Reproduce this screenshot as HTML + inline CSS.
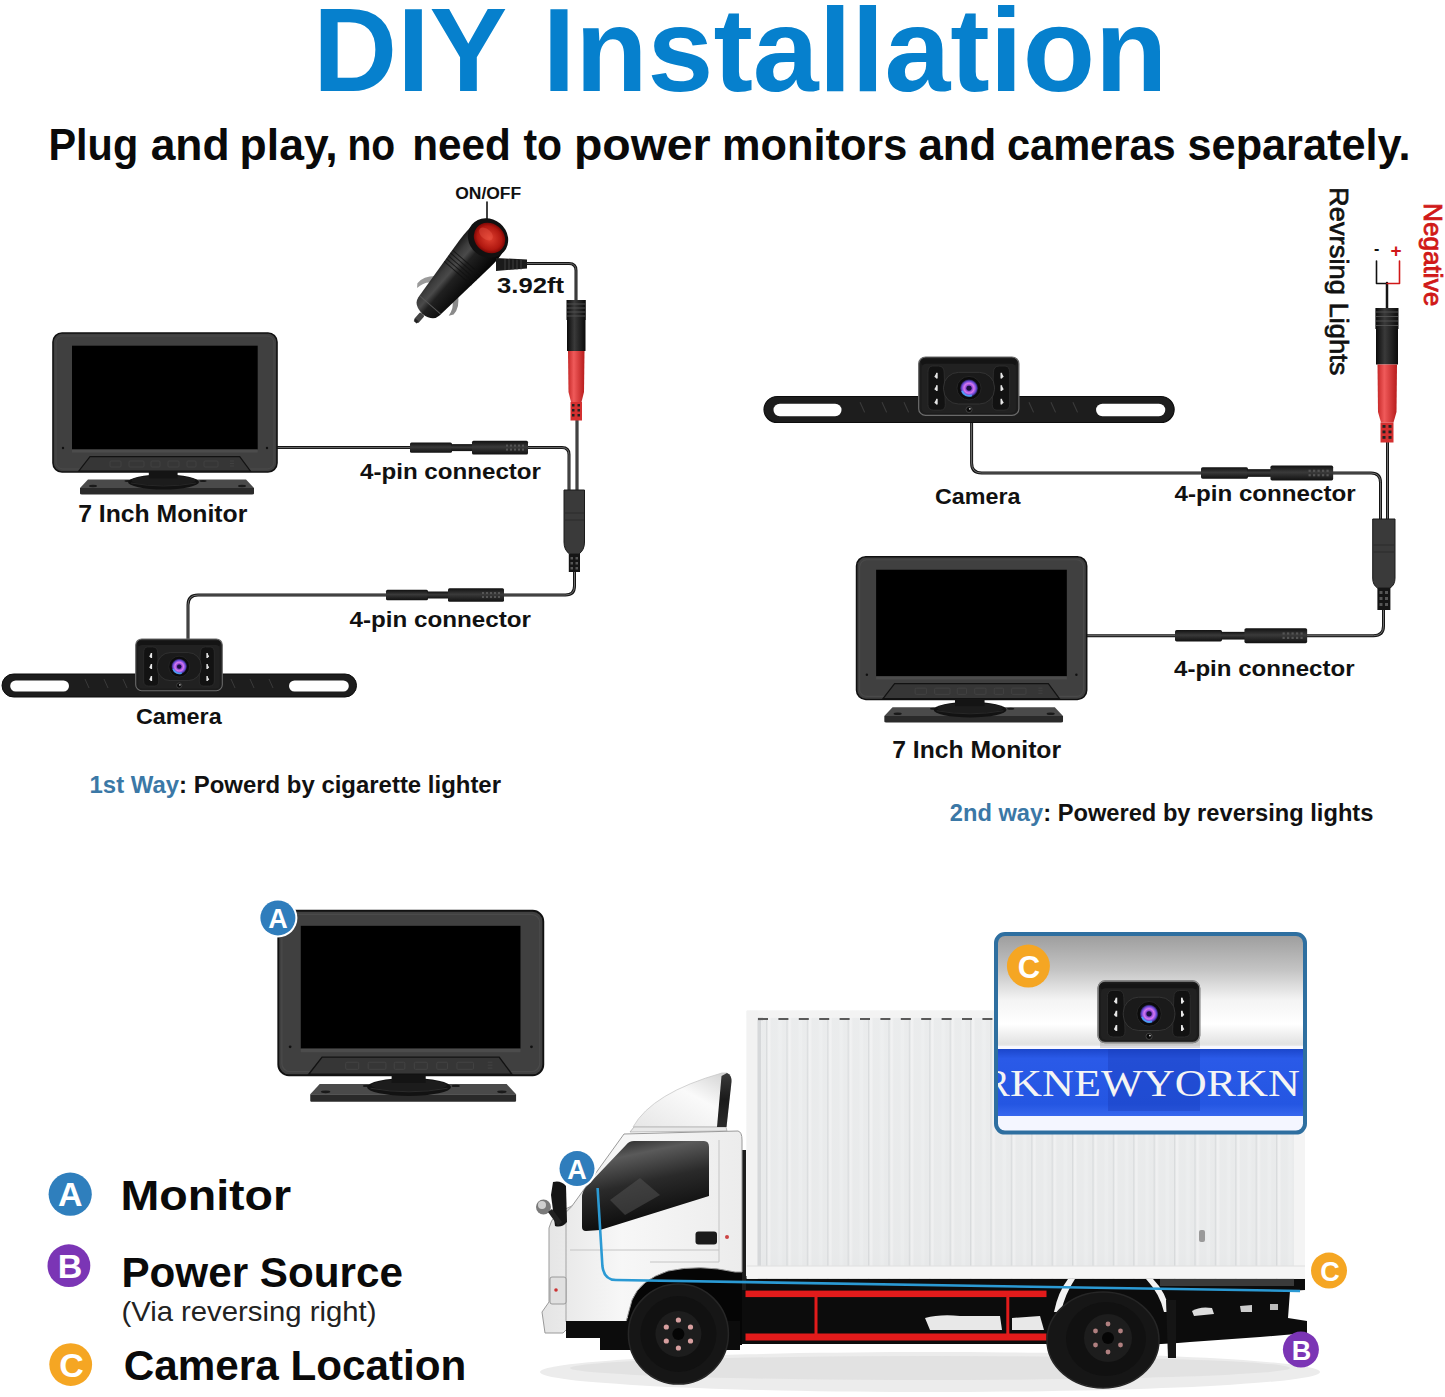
<!DOCTYPE html>
<html><head><meta charset="utf-8">
<style>
html,body{margin:0;padding:0;background:#fff;width:1445px;height:1397px;overflow:hidden}
svg{display:block}
text{font-family:"Liberation Sans",sans-serif}
.b{font-weight:bold}
</style></head>
<body>
<svg width="1445" height="1397" viewBox="0 0 1445 1397">
<defs>
  <radialGradient id="lensg" cx="0.5" cy="0.5" r="0.5">
    <stop offset="0" stop-color="#30206a"/>
    <stop offset="0.3" stop-color="#7a3cc8"/>
    <stop offset="0.55" stop-color="#d878f0"/>
    <stop offset="0.8" stop-color="#6a48d8"/>
    <stop offset="1" stop-color="#181838"/>
  </radialGradient>
  <radialGradient id="redbtn" cx="0.5" cy="0.5" r="0.55">
    <stop offset="0" stop-color="#e04030"/>
    <stop offset="0.7" stop-color="#b01810"/>
    <stop offset="1" stop-color="#600"/>
  </radialGradient>
  <linearGradient id="redconn" x1="0" x2="1" y1="0" y2="0">
    <stop offset="0" stop-color="#c62828"/>
    <stop offset="0.35" stop-color="#f05a5a"/>
    <stop offset="1" stop-color="#b81c1c"/>
  </linearGradient>
  <linearGradient id="blkconn" x1="0" x2="1" y1="0" y2="0">
    <stop offset="0" stop-color="#0a0a0a"/>
    <stop offset="0.4" stop-color="#3a3a3a"/>
    <stop offset="1" stop-color="#0a0a0a"/>
  </linearGradient>
  <linearGradient id="hconn" x1="0" x2="0" y1="0" y2="1">
    <stop offset="0" stop-color="#111"/>
    <stop offset="0.45" stop-color="#3a3a3a"/>
    <stop offset="1" stop-color="#111"/>
  </linearGradient>

  <!-- monitor in local coords (224 wide) -->
  <g id="monitor">
    <rect x="0" y="0" width="224" height="139" rx="9" fill="#404040" stroke="#111" stroke-width="1.6"/>
    <rect x="3" y="3" width="218" height="133" rx="7" fill="none" stroke="#4a4a4a" stroke-width="1"/>
    <rect x="19" y="12.7" width="185.7" height="103.8" fill="#000"/>
    <rect x="19" y="116.5" width="185.7" height="3" fill="#4c4c4c"/>
    <path d="M37 123.7 L186.7 123.7 L197.5 138.2 L25.7 138.2 Z" fill="#363636" stroke="#121212" stroke-width="1.2"/>
    <g fill="none" stroke="#444" stroke-width="0.8">
      <rect x="57" y="128" width="11" height="6" rx="1"/>
      <rect x="76" y="128" width="15" height="6" rx="1"/>
      <rect x="98" y="128" width="9" height="6" rx="1"/>
      <rect x="115" y="128" width="11" height="6" rx="1"/>
      <rect x="134" y="128" width="9" height="6" rx="1"/>
      <rect x="151" y="128" width="14" height="6" rx="1"/>
      <path d="M177 128 L181 128 M177 130.5 L181 130.5 M177 133 L181 133"/>
    </g>
    <circle cx="10" cy="115" r="1.2" fill="#111"/>
    <circle cx="214" cy="115" r="1.2" fill="#111"/>
    <path d="M35 146.5 L193 146.5 L201 155 L27 155 Z" fill="#4a4a4a"/>
    <path d="M27 155 L201 155 L201 160.5 Q201 161.5 199 161.5 L29 161.5 Q27 161.5 27 160.5 Z" fill="#2a2a2a"/>
    <ellipse cx="40" cy="153" rx="4" ry="1.2" fill="#1a1a1a"/>
    <ellipse cx="189" cy="153" rx="4" ry="1.2" fill="#1a1a1a"/>
    <ellipse cx="75" cy="148" rx="3.5" ry="1" fill="#1a1a1a"/>
    <ellipse cx="150" cy="148" rx="3.5" ry="1" fill="#1a1a1a"/>
    <ellipse cx="110.5" cy="149" rx="35.5" ry="7.5" fill="#121212"/>
    <ellipse cx="110.5" cy="147.5" rx="32" ry="5" fill="#1c1c1c"/>
    <path d="M78 150 Q110.5 156 143 150" stroke="#2c2c2c" stroke-width="0.8" fill="none"/>
    <rect x="95.8" y="138.5" width="28.8" height="7" fill="#141414"/>
  </g>

  <!-- camera box local coords: box 0..86.6 x 0..51.7 -->
  <g id="cambox">
    <rect x="0" y="0" width="86.6" height="51.7" rx="6" fill="#1c1c1c" stroke="#6a6a6a" stroke-width="1.1"/>
    <rect x="2" y="2" width="82.6" height="5" rx="2" fill="#141414"/>
    <rect x="2.5" y="6" width="81.6" height="43.5" rx="4" fill="#212121"/>
    <path d="M12 8 Q8 8 8 14 L8 42 Q8 47 13 47 L19 47 Q23 47 23 42 L22 14 Q22 8 17 8 Z" fill="#121212" stroke="#333" stroke-width="0.6"/>
    <path d="M74.6 8 Q78.6 8 78.6 14 L78.6 42 Q78.6 47 73.6 47 L67.6 47 Q63.6 47 63.6 42 L64.6 14 Q64.6 8 69.6 8 Z" fill="#121212" stroke="#333" stroke-width="0.6"/>
    <g fill="#e8e8e8">
      <path d="M15.5 14 L15.5 19 L13.5 17.5 Z"/><path d="M15.5 25 L15.5 30 L13.5 28.5 Z"/><path d="M15.5 37 L15.5 42 L13.5 40.5 Z"/>
      <path d="M71.5 14 L71.5 19 L73.5 17.5 Z"/><path d="M71.5 25 L71.5 30 L73.5 28.5 Z"/><path d="M71.5 37 L71.5 42 L73.5 40.5 Z"/>
      <rect x="15" y="14" width="1.4" height="5"/><rect x="15" y="25" width="1.4" height="5"/><rect x="15" y="37" width="1.4" height="5"/>
      <rect x="70.7" y="14" width="1.4" height="5"/><rect x="70.7" y="25" width="1.4" height="5"/><rect x="70.7" y="37" width="1.4" height="5"/>
    </g>
    <rect x="21.5" y="13.6" width="44" height="28" rx="13" fill="#1a1a1a" stroke="#3a3a3a" stroke-width="0.7"/>
    <circle cx="43.5" cy="27.6" r="10.4" fill="#0b0b0b" stroke="#2e2e2e" stroke-width="0.6"/>
    <circle cx="43.5" cy="27.6" r="7.8" fill="url(#lensg)"/>
    <path d="M37.5 30 A6.5 6.5 0 0 0 46 34" stroke="#4ab0ff" stroke-width="1.6" fill="none" opacity="0.85"/>
    <circle cx="43.5" cy="27.6" r="2.2" fill="#1a1040"/>
    <circle cx="43.5" cy="46.5" r="2.6" fill="#0a0a0a" stroke="#555" stroke-width="0.6"/>
    <circle cx="44.2" cy="45.9" r="0.8" fill="#ccc"/>
  </g>

  <g id="camera">
    <rect x="0" y="35" width="354.5" height="23" rx="11.5" fill="#1d1d1d" stroke="#0c0c0c" stroke-width="1"/>
    <rect x="8.2" y="41.4" width="58.8" height="11.1" rx="5.5" fill="#fff"/>
    <rect x="287" y="41.4" width="59.8" height="11.1" rx="5.5" fill="#fff"/>
    <g stroke="#3a3a3a" stroke-width="1" fill="none">
      <path d="M83 40 l4 9 M102 40 l4 9 M121 40 l4 9 M229 40 l4 9 M248 40 l4 9 M267 40 l4 9"/>
    </g>
    <use href="#cambox" x="133.7" y="0"/>
  </g>

  <g id="hconnector">
    <!-- horizontal 4-pin connector, local: starts at 0, center y 0 -->
    <rect x="0" y="-5.2" width="42" height="10.4" rx="1.5" fill="url(#hconn)"/>
    <rect x="41" y="-3.5" width="22" height="7" fill="url(#hconn)"/>
    <rect x="62" y="-6.8" width="56" height="13.6" rx="1.5" fill="url(#hconn)"/>
    <g fill="#555">
      <rect x="96" y="-3" width="2" height="2"/><rect x="100" y="-3" width="2" height="2"/><rect x="104" y="-3" width="2" height="2"/><rect x="108" y="-3" width="2" height="2"/><rect x="112" y="-3" width="2" height="2"/>
      <rect x="96" y="1" width="2" height="2"/><rect x="100" y="1" width="2" height="2"/><rect x="104" y="1" width="2" height="2"/><rect x="108" y="1" width="2" height="2"/><rect x="112" y="1" width="2" height="2"/>
    </g>
  </g>

  <g id="badgeA">
    <circle r="21.6" fill="#2f7dbc"/>
    <text x="0" y="10.5" text-anchor="middle" font-size="31" font-weight="bold" fill="#fff">A</text>
  </g>
</defs>

<!-- ===== TITLE ===== -->
<text x="313.0" y="90.5" font-size="119" class="b" fill="#0680cd" textLength="194.3" lengthAdjust="spacingAndGlyphs">DIY</text>
<text x="542.4" y="90.5" font-size="119" class="b" fill="#0680cd" textLength="624.9" lengthAdjust="spacingAndGlyphs">Installation</text>
<text x="48.5" y="160" font-size="45" class="b" fill="#0a0a0a" textLength="89.7" lengthAdjust="spacingAndGlyphs">Plug</text>
<text x="150.7" y="160" font-size="45" class="b" fill="#0a0a0a" textLength="78.9" lengthAdjust="spacingAndGlyphs">and</text>
<text x="239.6" y="160" font-size="45" class="b" fill="#0a0a0a" textLength="98.1" lengthAdjust="spacingAndGlyphs">play,</text>
<text x="347.4" y="160" font-size="45" class="b" fill="#0a0a0a" textLength="47.7" lengthAdjust="spacingAndGlyphs">no</text>
<text x="412.2" y="160" font-size="45" class="b" fill="#0a0a0a" textLength="98.7" lengthAdjust="spacingAndGlyphs">need</text>
<text x="523.5" y="160" font-size="45" class="b" fill="#0a0a0a" textLength="38.6" lengthAdjust="spacingAndGlyphs">to</text>
<text x="573.9" y="160" font-size="45" class="b" fill="#0a0a0a" textLength="136.8" lengthAdjust="spacingAndGlyphs">power</text>
<text x="722.1" y="160" font-size="45" class="b" fill="#0a0a0a" textLength="185.2" lengthAdjust="spacingAndGlyphs">monitors</text>
<text x="918.4" y="160" font-size="45" class="b" fill="#0a0a0a" textLength="78.0" lengthAdjust="spacingAndGlyphs">and</text>
<text x="1006.9" y="160" font-size="45" class="b" fill="#0a0a0a" textLength="168.8" lengthAdjust="spacingAndGlyphs">cameras</text>
<text x="1187.5" y="160" font-size="45" class="b" fill="#0a0a0a" textLength="222.9" lengthAdjust="spacingAndGlyphs">separately.</text>

<!-- ===== TOP LEFT ===== -->
<g id="tl">
  <!-- cables -->
  <g fill="none" stroke-linecap="round" stroke-linejoin="round">
    <path d="M527 263.5 L569 263.5 Q576 263.5 576 270.5 L576 300" stroke="#151515" stroke-width="3"/>
    <path d="M527 263.5 L569 263.5 Q576 263.5 576 270.5 L576 300" stroke="#777" stroke-width="0.8"/>
    <path d="M577 420 L577 492" stroke="#151515" stroke-width="3"/>
    <path d="M577 420 L577 492" stroke="#888" stroke-width="0.8"/>
    <path d="M277 447.6 L410 447.6 M528 447.6 L562 447.6 Q569 447.6 569 454.6 L569 492" stroke="#151515" stroke-width="3"/>
    <path d="M277 447.6 L410 447.6 M528 447.6 L562 447.6 Q569 447.6 569 454.6 L569 492" stroke="#888" stroke-width="0.8"/>
    <path d="M574.5 570 L574.5 586 Q574.5 595 565.5 595 L504 595 M386 595 L198 595 Q188 595 188 605 L188 640" stroke="#151515" stroke-width="3"/>
    <path d="M574.5 570 L574.5 586 Q574.5 595 565.5 595 L504 595 M386 595 L198 595 Q188 595 188 605 L188 640" stroke="#888" stroke-width="0.8"/>
    <path d="M487 202 L487 222" stroke="#111" stroke-width="1.6"/>
  </g>
  <!-- cigarette lighter -->
  <defs>
    <linearGradient id="lbody" gradientUnits="userSpaceOnUse" x1="0" y1="21" x2="0" y2="-21">
      <stop offset="0" stop-color="#1a1a1a"/>
      <stop offset="0.2" stop-color="#3c3c3c"/>
      <stop offset="0.35" stop-color="#4a4a4a"/>
      <stop offset="0.5" stop-color="#202020"/>
      <stop offset="1" stop-color="#050505"/>
    </linearGradient>
  </defs>
  <g transform="translate(488 238.5) rotate(131)">
    <path d="M62 -14 Q70 -24 80 -24 L84 -21 Q74 -20 70 -13 Z" fill="#8a8a8a"/>
    <path d="M62 14 Q70 24 80 24 L84 21 Q74 20 70 13 Z" fill="#9a9a9a"/>
    <path d="M0 -20 Q6 -21.5 20 -20.5 L90 -14 Q99 -13 100 0 Q99 13 90 14 L20 20.5 Q6 21.5 0 20 Z" fill="url(#lbody)"/>
    <g stroke="#111" stroke-width="1" opacity="0.8"><path d="M32 -19 L32 19 M35.5 -19 L35.5 19 M39 -18.5 L39 18.5 M42.5 -18 L42.5 18 M46 -18 L46 18"/></g>
    <path d="M88 -13.5 L88 13.5" stroke="#555" stroke-width="1"/>
    <rect x="100" y="-3" width="10" height="6" rx="1.5" fill="#444"/>
    <rect x="108" y="-2" width="3" height="4" fill="#222"/>
  </g>
  <ellipse cx="488" cy="238" rx="21" ry="19" fill="#111" transform="rotate(40 488 238)"/>
  <ellipse cx="489.5" cy="238" rx="16.5" ry="14.5" fill="url(#redbtn)" transform="rotate(40 489.5 238)"/>
  <ellipse cx="486" cy="234" rx="8" ry="5" fill="#f06050" opacity="0.35" transform="rotate(40 486 234)"/>
  <!-- strain relief -->
  <path d="M496 258 L527 259.5 L527 268.5 L496 271 Z" fill="#1a1a1a"/>
  <g stroke="#444" stroke-width="0.9"><path d="M505 259 L505 270 M509 259 L509 270 M513 259.5 L513 269.5 M517 259.5 L517 269.5 M521 259.5 L521 269.5"/></g>
  <!-- vertical red connector -->
  <rect x="566.5" y="300" width="19.3" height="20" fill="url(#blkconn)"/>
  <g stroke="#555" stroke-width="0.9"><path d="M567 304 L585.5 304 M567 308 L585.5 308 M567 312 L585.5 312 M567 316 L585.5 316"/></g>
  <rect x="567" y="320" width="18.5" height="31" fill="url(#blkconn)"/>
  <path d="M568 351 L584.5 351 L584 392 L581.5 402 L571 402 L568.5 392 Z" fill="url(#redconn)"/>
  <rect x="570.5" y="402" width="11.5" height="18.5" fill="#d43030"/>
  <g fill="#222"><rect x="572" y="404" width="2.5" height="2.5"/><rect x="577.5" y="404" width="2.5" height="2.5"/><rect x="572" y="409" width="2.5" height="2.5"/><rect x="577.5" y="409" width="2.5" height="2.5"/><rect x="572" y="414" width="2.5" height="2.5"/><rect x="577.5" y="414" width="2.5" height="2.5"/></g>
  <!-- junction box -->
  <path d="M564 490 L584.5 490 L584.5 542 Q584.5 550 579 554 L569.5 554 Q564 550 564 542 Z" fill="#3a3a3a" stroke="#1a1a1a" stroke-width="1"/>
  <path d="M565 513 L584 513 M565 520 L584 520" stroke="#2a2a2a" stroke-width="1"/>
  <rect x="568.8" y="554" width="11.2" height="18" fill="#151515"/>
  <g fill="#555"><rect x="570.5" y="557" width="2.5" height="2.5"/><rect x="575.5" y="557" width="2.5" height="2.5"/><rect x="570.5" y="562" width="2.5" height="2.5"/><rect x="575.5" y="562" width="2.5" height="2.5"/><rect x="570.5" y="567" width="2.5" height="2.5"/><rect x="575.5" y="567" width="2.5" height="2.5"/></g>
  <!-- horizontal connectors -->
  <use href="#hconnector" transform="translate(410 447.6)"/>
  <use href="#hconnector" transform="translate(386 595)"/>
  <!-- monitor -->
  <use href="#monitor" transform="translate(53 333)"/>
  <!-- camera -->
  <use href="#camera" transform="translate(2 639)"/>
  <!-- labels -->
  <text x="455.2" y="198.6" font-size="16" class="b" fill="#111" textLength="66" lengthAdjust="spacingAndGlyphs">ON/OFF</text>
  <text x="497" y="292.6" font-size="21.8" class="b" fill="#111" textLength="67" lengthAdjust="spacingAndGlyphs">3.92ft</text>
  <text x="360" y="478.7" font-size="21.8" class="b" fill="#111" textLength="181" lengthAdjust="spacingAndGlyphs">4-pin connector</text>
  <text x="78.2" y="521.5" font-size="23" class="b" fill="#111" textLength="169.2" lengthAdjust="spacingAndGlyphs">7 Inch Monitor</text>
  <text x="349.6" y="626.7" font-size="21.8" class="b" fill="#111" textLength="181.4" lengthAdjust="spacingAndGlyphs">4-pin connector</text>
  <text x="136" y="723.5" font-size="22.5" class="b" fill="#111" textLength="85.7" lengthAdjust="spacingAndGlyphs">Camera</text>
  <text x="89.5" y="793" font-size="23" class="b" fill="#111" textLength="411.5" lengthAdjust="spacingAndGlyphs"><tspan fill="#3b78a6">1st Way</tspan>: Powerd by cigarette lighter</text>
</g>
<!-- ===== TOP RIGHT ===== -->
<g id="tr">
  <g fill="none" stroke-linecap="round" stroke-linejoin="round">
    <path d="M971.6 423 L971.6 463 Q971.6 473 981.6 473 L1201 473 M1333 473 L1371 473 Q1380.5 473 1380.5 482.5 L1380.5 520" stroke="#151515" stroke-width="3"/>
    <path d="M971.6 423 L971.6 463 Q971.6 473 981.6 473 L1201 473 M1333 473 L1371 473 Q1380.5 473 1380.5 482.5 L1380.5 520" stroke="#888" stroke-width="0.8"/>
    <path d="M1387.5 442 L1387.5 520" stroke="#151515" stroke-width="3"/>
    <path d="M1387.5 442 L1387.5 520" stroke="#888" stroke-width="0.8"/>
    <path d="M1383.5 608 L1383.5 626 Q1383.5 635.7 1373.5 635.7 L1307 635.7 M1175 635.7 L1087 635.7" stroke="#151515" stroke-width="3"/>
    <path d="M1383.5 608 L1383.5 626 Q1383.5 635.7 1373.5 635.7 L1307 635.7 M1175 635.7 L1087 635.7" stroke="#888" stroke-width="0.8"/>
    <path d="M1387 283 L1387 309" stroke="#151515" stroke-width="2.5"/>
    <path d="M1376.5 261 L1376.5 283.5 L1387 283.5" stroke="#111" stroke-width="1.6"/>
    <path d="M1399.5 261 L1399.5 283.5 L1387 283.5" stroke="#d01818" stroke-width="1.6"/>
  </g>
  <text x="1374" y="254" font-size="16" class="b" fill="#111">-</text>
  <text x="1390.5" y="257" font-size="19" class="b" fill="#d01818">+</text>
  <!-- vertical red connector -->
  <rect x="1375.4" y="308" width="23.1" height="21" fill="url(#blkconn)"/>
  <g stroke="#555" stroke-width="0.9"><path d="M1376 312 L1398 312 M1376 316.5 L1398 316.5 M1376 321 L1398 321 M1376 325.5 L1398 325.5"/></g>
  <rect x="1376" y="329" width="22" height="35.5" fill="url(#blkconn)"/>
  <path d="M1377.5 364.5 L1397 364.5 L1396.5 412 L1393.5 422.5 L1381 422.5 L1378 412 Z" fill="url(#redconn)"/>
  <rect x="1380.5" y="422.5" width="13" height="20" fill="#d43030"/>
  <g fill="#222"><rect x="1382.5" y="425" width="3" height="2.8"/><rect x="1388.5" y="425" width="3" height="2.8"/><rect x="1382.5" y="430.5" width="3" height="2.8"/><rect x="1388.5" y="430.5" width="3" height="2.8"/><rect x="1382.5" y="436" width="3" height="2.8"/><rect x="1388.5" y="436" width="3" height="2.8"/></g>
  <!-- junction box -->
  <path d="M1372.7 519 L1395 519 L1395 578 Q1395 585 1390 588 L1377.5 588 Q1372.7 585 1372.7 578 Z" fill="#3a3a3a" stroke="#1a1a1a" stroke-width="1"/>
  <path d="M1373.5 545 L1394 545 M1373.5 552 L1394 552" stroke="#2a2a2a" stroke-width="1"/>
  <rect x="1377.4" y="588" width="13" height="22" fill="#151515"/>
  <g fill="#555"><rect x="1379.5" y="591" width="3" height="3"/><rect x="1385" y="591" width="3" height="3"/><rect x="1379.5" y="597" width="3" height="3"/><rect x="1385" y="597" width="3" height="3"/><rect x="1379.5" y="603" width="3" height="3"/><rect x="1385" y="603" width="3" height="3"/></g>
  <use href="#hconnector" transform="translate(1201 473) scale(1.12 1.1)"/>
  <use href="#hconnector" transform="translate(1175 635.7) scale(1.12 1.1)"/>
  <use href="#camera" transform="translate(764 357) scale(1.157 1.13)"/>
  <use href="#monitor" transform="translate(856.6 556.7) scale(1.027)"/>
  <text x="935" y="504.2" font-size="22.5" class="b" fill="#111" textLength="85.5" lengthAdjust="spacingAndGlyphs">Camera</text>
  <text x="1174.5" y="501.4" font-size="21.8" class="b" fill="#111" textLength="181.2" lengthAdjust="spacingAndGlyphs">4-pin connector</text>
  <text x="1174" y="676.4" font-size="21.8" class="b" fill="#111" textLength="180.6" lengthAdjust="spacingAndGlyphs">4-pin connector</text>
  <text x="892.2" y="758.2" font-size="23.5" class="b" fill="#111" textLength="168.9" lengthAdjust="spacingAndGlyphs">7 Inch Monitor</text>
  <text x="949.8" y="821" font-size="23" class="b" fill="#111" textLength="423.6" lengthAdjust="spacingAndGlyphs"><tspan fill="#3b78a6">2nd way</tspan>: Powered by reversing lights</text>
  <text transform="translate(1329.6 187) rotate(90)" x="0" y="0" font-size="26" fill="#111" stroke="#111" stroke-width="0.7" textLength="188.4" lengthAdjust="spacingAndGlyphs">Revrsing Lights</text>
  <text transform="translate(1423.5 203) rotate(90)" x="0" y="0" font-size="25" fill="#d01818" stroke="#d01818" stroke-width="0.8" textLength="103.3" lengthAdjust="spacingAndGlyphs">Negative</text>
</g>

<!-- TOP_RIGHT -->
<!-- ===== BOTTOM ===== -->
<g id="bottom">
  <use href="#monitor" transform="translate(278.3 910.8) scale(1.183)"/>
  <circle cx="277.9" cy="917.9" r="19.5" fill="#fff"/>
  <circle cx="277.9" cy="917.9" r="17.5" fill="#2f7dbc"/>
  <text x="277.9" y="928" text-anchor="middle" font-size="27" class="b" fill="#fff">A</text>

  <!-- legend -->
  <circle cx="70.2" cy="1194.2" r="21.6" fill="#2f7fbd"/>
  <text x="70.2" y="1206" text-anchor="middle" font-size="34" class="b" fill="#fff">A</text>
  <circle cx="68.9" cy="1265.7" r="21.4" fill="#7b35b5"/>
  <text x="70" y="1277.5" text-anchor="middle" font-size="34" class="b" fill="#fff">B</text>
  <circle cx="70.7" cy="1364.6" r="21.4" fill="#f5a623"/>
  <text x="71.5" y="1376.5" text-anchor="middle" font-size="34" class="b" fill="#fff">C</text>
  <text x="120.4" y="1209.6" font-size="42" class="b" fill="#0a0a0a" textLength="170.8" lengthAdjust="spacingAndGlyphs">Monitor</text>
  <text x="121.4" y="1287.3" font-size="42.5" class="b" fill="#0a0a0a" textLength="281.5" lengthAdjust="spacingAndGlyphs">Power Source</text>
  <text x="121.4" y="1321.4" font-size="27.6" fill="#222" textLength="255" lengthAdjust="spacingAndGlyphs">(Via reversing right)</text>
  <text x="123.8" y="1379.9" font-size="42.5" class="b" fill="#0a0a0a" textLength="342.5" lengthAdjust="spacingAndGlyphs">Camera Location</text>

  <!-- TRUCK -->
  <defs>
    <linearGradient id="shadowg" x1="0" x2="0" y1="0" y2="1">
      <stop offset="0" stop-color="#d8d8d8"/>
      <stop offset="1" stop-color="#fff" stop-opacity="0"/>
    </linearGradient>
    <linearGradient id="boxg" x1="0" x2="0" y1="0" y2="1">
      <stop offset="0" stop-color="#f2f2f2"/>
      <stop offset="0.9" stop-color="#e9e9e9"/>
      <stop offset="1" stop-color="#dcdcdc"/>
    </linearGradient>
    <pattern id="ribs" x="766" y="0" width="20.4" height="10" patternUnits="userSpaceOnUse">
      <rect x="0" y="0" width="20.4" height="10" fill="#e8eaeb"/>
      <rect x="0" y="0" width="1.6" height="10" fill="#d3d6d8"/>
      <rect x="1.6" y="0" width="3" height="10" fill="#f1f2f3"/>
      <rect x="12" y="0" width="4" height="10" fill="#eceeef"/>
    </pattern>
    <linearGradient id="wing" x1="0" x2="1" y1="1" y2="0">
      <stop offset="0" stop-color="#e6e6e6"/>
      <stop offset="0.6" stop-color="#fafafa"/>
      <stop offset="1" stop-color="#d0d0d0"/>
    </linearGradient>
    <linearGradient id="wing2" x1="0" x2="0" y1="0" y2="1">
      <stop offset="0" stop-color="#3a3a3a"/>
      <stop offset="0.5" stop-color="#1a1a1a"/>
      <stop offset="1" stop-color="#2a2a2a"/>
    </linearGradient>
    <linearGradient id="wind" x1="0" x2="0.3" y1="0" y2="1">
      <stop offset="0" stop-color="#1a1a1a"/>
      <stop offset="0.25" stop-color="#5a5a5a"/>
      <stop offset="0.55" stop-color="#2a2a2a"/>
      <stop offset="1" stop-color="#0a0a0a"/>
    </linearGradient>
    <linearGradient id="cabg" x1="0" x2="1" y1="0" y2="0">
      <stop offset="0" stop-color="#e4e4e4"/>
      <stop offset="0.4" stop-color="#f7f7f7"/>
      <stop offset="1" stop-color="#ececec"/>
    </linearGradient>
  </defs>
  <ellipse cx="930" cy="1372" rx="390" ry="20" fill="#ececec"/>
  <ellipse cx="930" cy="1368" rx="360" ry="12" fill="#e2e2e2"/>
  <!-- chassis -->
  <path d="M735 1276 L1305 1276 L1305 1290 L1290 1291 L1288 1318 L1307 1321 L1307 1333 L1260 1337 L1190 1342 L1178 1343 L1060 1350 L1046 1344 L740 1344 Z" fill="#0c0c0c"/>
  <rect x="1160" y="1279" width="134" height="7" fill="#5a5a5a" opacity="0.6"/>
  <path d="M600 1318 L740 1318 L740 1350 L600 1350 Z" fill="#0c0c0c"/>
  <g fill="#e8e8e8">
    <path d="M925 1318 Q940 1314 960 1316 L1000 1316 L1002 1330 L930 1330 Z"/>
    <path d="M1012 1318 L1040 1316 L1044 1330 L1012 1330 Z"/>
    <path d="M1192 1311 Q1200 1306 1212 1308 L1214 1314 L1194 1316 Z" fill="#ddd"/><path d="M1240 1306 L1252 1305 L1252 1312 L1241 1312 Z" fill="#ccc"/><path d="M1270 1304 L1278 1304 L1278 1310 L1270 1310 Z" fill="#bbb"/>
  </g>
  <g fill="#e21b1b">
    <rect x="745.5" y="1290.6" width="301" height="6.5"/>
    <rect x="745.5" y="1333.5" width="301" height="7"/>
    <rect x="814.5" y="1293" width="3" height="44"/>
    <rect x="1006.3" y="1293" width="3" height="44"/>
  </g>
  <!-- rear wheel -->
  <path d="M1054 1312 Q1058 1292 1068 1279 L1075 1279 Q1065 1294 1061 1312 Z" fill="#f2f2f2"/>
  <path d="M1146 1279 L1153 1279 Q1166 1292 1170 1312 L1164 1312 Q1160 1294 1146 1279 Z" fill="#f2f2f2"/>
  <ellipse cx="1103" cy="1340" rx="56" ry="48" fill="#161616" stroke="#262626" stroke-width="1.5"/>
  <ellipse cx="1106" cy="1339" rx="40" ry="37" fill="#111"/>
  <circle cx="1108" cy="1338" r="24" fill="#1d1d1d"/>
  <g fill="#b08080"><circle cx="1108" cy="1324" r="2.4"/><circle cx="1120.5" cy="1331" r="2.4"/><circle cx="1120.5" cy="1345" r="2.4"/><circle cx="1108" cy="1352" r="2.4"/><circle cx="1095.5" cy="1345" r="2.4"/><circle cx="1095.5" cy="1331" r="2.4"/></g>
  <circle cx="1108" cy="1338" r="6" fill="#050505"/>
  <path d="M1166 1300 L1176 1300 L1176 1358 L1168 1358 Z" fill="#151515"/>
  <!-- cargo box -->
  <rect x="746.8" y="1010.8" width="558.2" height="268" fill="url(#ribs)"/>
  <rect x="746.8" y="1010.8" width="558.2" height="268" fill="url(#boxg)" opacity="0.25"/>
  <rect x="746.8" y="1010.4" width="558.2" height="7.5" fill="#f3f3f3"/>
  <rect x="746.8" y="1010.8" width="11" height="268" fill="#f2f2f2"/>
  <rect x="757.5" y="1018" width="3.5" height="250" fill="#d6d8da"/>
  <rect x="1294" y="1010.8" width="11" height="268" fill="#f4f4f4"/>
  <path d="M758 1019 L1300 1019" stroke="#5a5a5a" stroke-width="2.2" stroke-dasharray="10 10.4"/>
  <rect x="746.8" y="1266" width="558.2" height="12.5" fill="#f5f5f5"/>
  <path d="M746.8 1266 L1305 1266" stroke="#e0e0e0" stroke-width="1"/>
  <rect x="1199" y="1230" width="6" height="12" rx="2" fill="#9a9a9a"/>
  <path d="M741 1150 L746 1150 L746 1290 L741 1290 Z" fill="#1c1c1c"/>
  <path d="M628 1310 Q636 1278 668 1270 Q700 1263 742 1268 L742 1345 L628 1345 Z" fill="#050505"/>
  <!-- cab -->
  <path d="M633 1127 Q652 1093 722 1073 L727 1073 L731 1080 L726 1127 Z" fill="url(#wing)" stroke="#c8c8c8" stroke-width="0.8"/>
  <path d="M634 1127 L726 1127 L727 1131 L630 1132 Z" fill="#e8e8e8" stroke="#a8a8a8" stroke-width="0.7"/>
  <path d="M721.5 1076 L727 1073 Q732 1075 731.5 1082 L726.5 1127 L717 1127 Z" fill="url(#wing2)"/>
  <path d="M624 1134 L738 1131 Q742 1132 742 1140 L742 1272 L735 1272 Q700 1264 668 1271 Q640 1280 632 1300 L626 1322 L572 1324 L563 1333 L545 1333 L542 1312 L549 1302 L549 1228 Q552 1213 572 1206 Z" fill="url(#cabg)" stroke="#9a9a9a" stroke-width="1"/>
  <path d="M572 1206 L566 1212 L566 1322" stroke="#b0b0b0" stroke-width="1.2" fill="none"/>
  <path d="M719 1140 L719 1262 L650 1262 M570 1250 L719 1250" stroke="#c4c4c4" stroke-width="1" fill="none"/>
  <path d="M634 1141 L704 1141 Q709 1141 709 1147 L709 1196 L600 1230 L586 1231 Q582 1231 582 1227 L582 1197 Q582 1192 586 1187 L626 1145 Q629 1141 634 1141 Z" fill="url(#wind)"/>
  <path d="M610 1200 L640 1178 L660 1195 L625 1215 Z" fill="#555" opacity="0.5"/>
  <rect x="695.5" y="1231.5" width="21.5" height="13" rx="3" fill="#1a1a1a"/>
  <circle cx="727" cy="1237" r="2" fill="#c44"/>
  <!-- mirror -->
  <path d="M553 1182 Q561 1180 566 1186 L567 1222 Q562 1228 555 1226 L551 1195 Z" fill="#151515"/>
  <circle cx="543.5" cy="1207" r="7.5" fill="#7a7a7a"/>
  <circle cx="542" cy="1205" r="4" fill="#cfcfcf"/>
  <path d="M548 1212 L558 1226 L562 1222 L552 1209 Z" fill="#222"/>
  <!-- headlight -->
  <rect x="550" y="1277" width="16" height="27" rx="2" fill="#e0e0e0" stroke="#888" stroke-width="0.8"/>
  <circle cx="556" cy="1290" r="1.8" fill="#c33"/>
  <!-- front wheel -->
  <path d="M566 1321 L740 1321 L740 1345 L626 1345 L620 1338 L566 1338 Z" fill="#0c0c0c"/>
  
  <circle cx="678.4" cy="1334" r="50" fill="#161616" stroke="#262626" stroke-width="1.5"/>
  <circle cx="678.4" cy="1334" r="38" fill="#111"/>
  <circle cx="678.4" cy="1334" r="23" fill="#1d1d1d"/>
  <g fill="#d8a0a0"><circle cx="678.4" cy="1320" r="2.6"/><circle cx="690.5" cy="1327" r="2.6"/><circle cx="690.5" cy="1341" r="2.6"/><circle cx="678.4" cy="1348" r="2.6"/><circle cx="666.3" cy="1341" r="2.6"/><circle cx="666.3" cy="1327" r="2.6"/></g>
  <circle cx="678.4" cy="1334" r="6" fill="#050505"/>
  <!-- blue wiring -->
  <path d="M597.6 1188 L602.4 1266 Q604 1280 616 1280 L1300 1291" stroke="#2b9ad4" stroke-width="2.6" fill="none"/>
  <!-- badges on truck -->
  <circle cx="577" cy="1168.6" r="19.5" fill="#fff"/>
  <circle cx="577" cy="1168.6" r="17.5" fill="#2f7dbc"/>
  <text x="577" y="1178.5" text-anchor="middle" font-size="27" class="b" fill="#fff">A</text>
  <circle cx="1329" cy="1270.6" r="18" fill="#f5a623"/>
  <text x="1330" y="1280.5" text-anchor="middle" font-size="27" class="b" fill="#fff">C</text>
  <circle cx="1300.9" cy="1349.6" r="18" fill="#7b35b5"/>
  <text x="1301.5" y="1359.5" text-anchor="middle" font-size="27" class="b" fill="#fff">B</text>

  <!-- INSET -->
  <defs>
    <clipPath id="insetclip"><rect x="996" y="934" width="309" height="198.6" rx="9"/></clipPath>
    <linearGradient id="insetbg" x1="0" x2="0" y1="934" y2="1134" gradientUnits="userSpaceOnUse">
      <stop offset="0" stop-color="#9c9c9c"/>
      <stop offset="0.18" stop-color="#c4c4c4"/>
      <stop offset="0.33" stop-color="#f4f4f4"/>
      <stop offset="0.45" stop-color="#ffffff"/>
      <stop offset="0.55" stop-color="#e2e2e2"/>
      <stop offset="0.57" stop-color="#f8f8f8"/>
      <stop offset="1" stop-color="#f8f8f8"/>
    </linearGradient>
    <linearGradient id="plateg" x1="0" x2="0" y1="1048" y2="1118" gradientUnits="userSpaceOnUse">
      <stop offset="0" stop-color="#1a44c8"/>
      <stop offset="0.15" stop-color="#2a5ae8"/>
      <stop offset="0.8" stop-color="#2456e2"/>
      <stop offset="1" stop-color="#3a6af0"/>
    </linearGradient>
  </defs>
  <g clip-path="url(#insetclip)">
    <rect x="994" y="932" width="313" height="203" fill="url(#insetbg)"/>
    <rect x="994" y="1048" width="313" height="68" fill="url(#plateg)"/>
    <rect x="994" y="1116" width="313" height="20" fill="#f4f6ff"/>
    <rect x="1108" y="1049" width="92" height="62" fill="#1a3bb8" opacity="0.4"/>
    <text x="985" y="1096.3" font-size="37" fill="#f4f4f4" style="font-family:'Liberation Serif',serif">R</text>
    <text x="1010" y="1096.3" font-size="37" fill="#f4f4f4" textLength="290" lengthAdjust="spacingAndGlyphs" style="font-family:'Liberation Serif',serif">KNEWYORKN</text>
    <rect x="994" y="1046" width="313" height="3" fill="#f8f8ff"/>
    <rect x="1100" y="1036" width="100" height="12" fill="#000" opacity="0.12"/>
    <use href="#cambox" transform="translate(1098 981) scale(1.174 1.19)"/>
    <rect x="1098" y="981" width="101.7" height="61.6" rx="7" fill="none" stroke="#8a8a8a" stroke-width="1.2"/>
    <circle cx="1028.4" cy="966.1" r="21.5" fill="#f5a623"/>
    <text x="1029" y="977.5" text-anchor="middle" font-size="31" class="b" fill="#fff">C</text>
  </g>
  <rect x="996" y="934" width="309" height="198.6" rx="9" fill="none" stroke="#2e6fa0" stroke-width="4"/>
</g>


<!-- MAIN_CONTENT -->

</svg>
</body></html>
